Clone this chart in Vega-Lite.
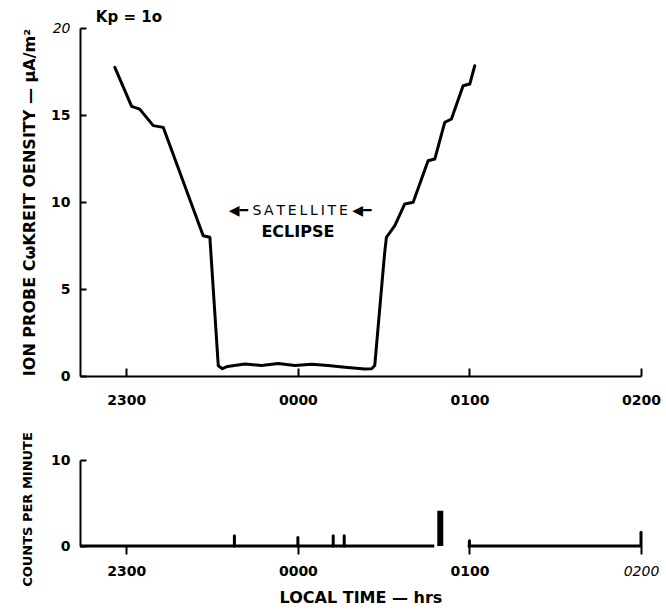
{
  "$schema": "https://vega.github.io/schema/vega-lite/v6.json",
  "background": "white",
  "padding": {"left": 21, "top": 9, "right": 0, "bottom": 5},
  "config": {
    "view": {"stroke": null},
    "font": "DejaVu Sans",
    "axis": {"grid": false, "domainColor": "black", "tickColor": "black", "labelColor": "black", "titleColor": "black", "domainWidth": 2, "tickWidth": 2, "labelFont": "DejaVu Sans", "labelFontWeight": "bold", "labelFontSize": 14, "titleFont": "DejaVu Sans", "titleFontWeight": "bold"}
  },
  "datasets": {
    "current": [
      {"t": -1.067, "v": 17.74}, {"t": -0.969, "v": 15.50}, {"t": -0.922, "v": 15.34},
      {"t": -0.843, "v": 14.39}, {"t": -0.785, "v": 14.29}, {"t": -0.552, "v": 8.06},
      {"t": -0.513, "v": 7.97}, {"t": -0.464, "v": 0.59}, {"t": -0.44, "v": 0.42},
      {"t": -0.41, "v": 0.55}, {"t": -0.309, "v": 0.69}, {"t": -0.212, "v": 0.6},
      {"t": -0.115, "v": 0.72}, {"t": -0.017, "v": 0.6}, {"t": 0.079, "v": 0.68},
      {"t": 0.176, "v": 0.6}, {"t": 0.274, "v": 0.5}, {"t": 0.39, "v": 0.4},
      {"t": 0.43, "v": 0.42}, {"t": 0.448, "v": 0.6}, {"t": 0.505, "v": 7.0},
      {"t": 0.516, "v": 7.97}, {"t": 0.565, "v": 8.64}, {"t": 0.623, "v": 9.89},
      {"t": 0.672, "v": 9.98}, {"t": 0.759, "v": 12.37}, {"t": 0.798, "v": 12.47},
      {"t": 0.856, "v": 14.58}, {"t": 0.895, "v": 14.77}, {"t": 0.963, "v": 16.68},
      {"t": 1.002, "v": 16.78}, {"t": 1.031, "v": 17.83}
    ],
    "notes": [
      {"t": -0.985, "v": 20.66, "label": "Kp = 1o", "kind": "kp"},
      {"t": 0.013, "v": 9.5, "label": "◀━ S\u2009A\u2009T\u2009E\u2009L\u2009L\u2009I\u2009T\u2009E ◀━", "kind": "sat"},
      {"t": 0.0, "v": 8.28, "label": "ECLIPSE", "kind": "ecl"}
    ],
    "baseline": [
      {"t": -1.27, "c": 0, "seg": "a"}, {"t": 0.795, "c": 0, "seg": "a"},
      {"t": 0.99, "c": 0, "seg": "b"}, {"t": 1.995, "c": 0, "seg": "b"}
    ],
    "counts": [
      {"t": -0.37, "c": 1.2}, {"t": 0.0, "c": 1.0}, {"t": 0.206, "c": 1.2},
      {"t": 0.27, "c": 1.2}, {"t": 0.83, "c": 4.1}, {"t": 1.0, "c": 0.6}, {"t": 2.0, "c": 1.6}
    ]
  },
  "vconcat": [
    {
      "width": 561,
      "height": 348,
      "layer": [
        {
          "data": {"name": "current"},
          "mark": {"type": "line", "color": "black", "strokeWidth": 3, "strokeJoin": "round", "strokeCap": "round"},
          "encoding": {
            "x": {"field": "t", "type": "quantitative", "scale": {"domain": [-1.27, 2.0], "nice": false, "zero": false},
              "axis": {"values": [-1, 0, 1, 2], "labelExpr": "datum.value == -1 ? '2300' : datum.value == 0 ? '0000' : datum.value == 1 ? '0100' : '0200'", "tickSize": -8, "labelPadding": 25, "title": null, "labelFlush": false}},
            "y": {"field": "v", "type": "quantitative", "scale": {"domain": [0, 20], "nice": false},
              "axis": {"values": [0, 5, 10, 15, 20], "tickSize": -6, "labelPadding": 16, "labelFontStyle": {"condition": {"test": "datum.value == 20", "value": "italic"}, "value": "normal"}, "labelFontWeight": {"condition": {"test": "datum.value == 20", "value": "normal"}, "value": "bold"},
                "title": "ION PROBE CωKREIT  OENSITY — μA/m²", "titleFontSize": 16, "titlePadding": 13}}
          }
        },
        {
          "data": {"name": "notes"},
          "transform": [{"filter": "datum.kind == 'kp'"}],
          "mark": {"type": "text", "fontWeight": "bold", "fontSize": 15, "color": "black", "baseline": "middle"},
          "encoding": {"x": {"field": "t", "type": "quantitative"}, "y": {"field": "v", "type": "quantitative"}, "text": {"field": "label"}}
        },
        {
          "data": {"name": "notes"},
          "transform": [{"filter": "datum.kind == 'sat'"}],
          "mark": {"type": "text", "fontSize": 14, "color": "black", "baseline": "middle"},
          "encoding": {"x": {"field": "t", "type": "quantitative"}, "y": {"field": "v", "type": "quantitative"}, "text": {"field": "label"}}
        },
        {
          "data": {"name": "notes"},
          "transform": [{"filter": "datum.kind == 'ecl'"}],
          "mark": {"type": "text", "fontSize": 16, "fontWeight": "bold", "color": "black", "baseline": "middle"},
          "encoding": {"x": {"field": "t", "type": "quantitative"}, "y": {"field": "v", "type": "quantitative"}, "text": {"field": "label"}}
        }
      ]
    },
    {
      "width": 561,
      "height": 86,
      "layer": [
        {
          "data": {"name": "baseline"},
          "mark": {"type": "line", "color": "black", "strokeWidth": 3},
          "encoding": {
            "x": {"field": "t", "type": "quantitative", "scale": {"domain": [-1.27, 2.0], "nice": false, "zero": false},
              "axis": {"values": [-1, 0, 1, 2], "labelExpr": "datum.value == -1 ? '2300' : datum.value == 0 ? '0000' : datum.value == 1 ? '0100' : '0200'", "domain": false, "tickSize": 8, "labelPadding": 10, "labelFlush": false,
                "labelFontStyle": {"condition": {"test": "datum.value == 2", "value": "italic"}, "value": "normal"},
                "labelFontWeight": {"condition": {"test": "datum.value == 2", "value": "normal"}, "value": "bold"},
                "title": "LOCAL  TIME — hrs", "titleFontSize": 16, "titlePadding": 11}},
            "y": {"field": "c", "type": "quantitative", "scale": {"domain": [0, 10], "nice": false},
              "axis": {"values": [0, 10], "tickSize": -6, "labelPadding": 16, "title": "COUNTS PER MINUTE", "titleFontSize": 13, "titlePadding": 16, "titleY": 49}},
            "detail": {"field": "seg"}
          }
        },
        {
          "data": {"name": "counts"},
          "transform": [{"filter": "datum.c < 3"}],
          "mark": {"type": "rule", "color": "black", "strokeWidth": 3, "strokeCap": "round"},
          "encoding": {"x": {"field": "t", "type": "quantitative"}, "y": {"field": "c", "type": "quantitative"}, "y2": {"datum": 0}}
        },
        {
          "data": {"name": "counts"},
          "transform": [{"filter": "datum.c >= 3"}],
          "mark": {"type": "rule", "color": "black", "strokeWidth": 6},
          "encoding": {"x": {"field": "t", "type": "quantitative"}, "y": {"field": "c", "type": "quantitative"}, "y2": {"datum": 0}}
        }
      ]
    }
  ],
  "spacing": 84,
  "bounds": "flush"
}
